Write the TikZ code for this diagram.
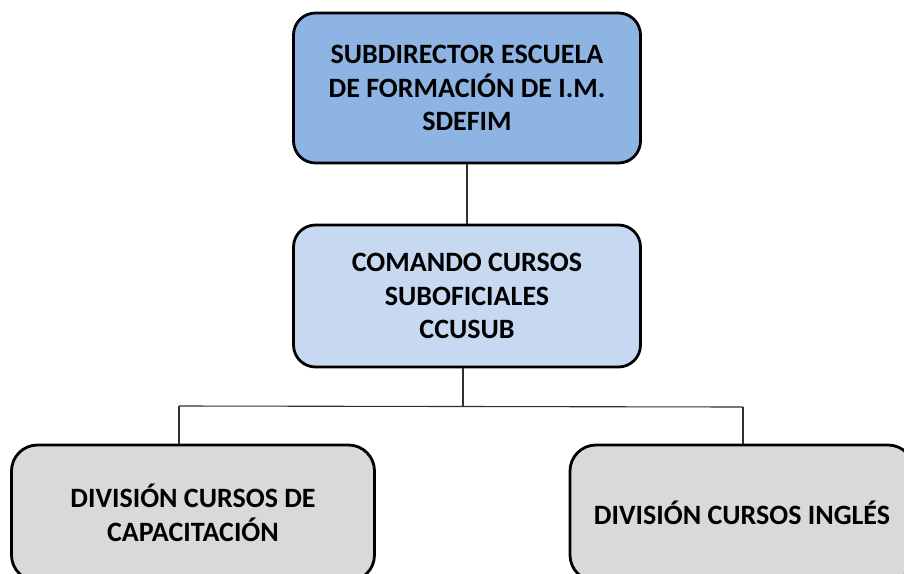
\documentclass[tikz,border=0pt]{standalone}
\usepackage{fontspec}
\setmainfont{Carlito}
\definecolor{topfill}{HTML}{8EB4E3}
\definecolor{midfill}{HTML}{C6D9F1}
\definecolor{botfill}{HTML}{D9D9D9}
\definecolor{conn}{HTML}{303030}
\begin{document}
\begin{tikzpicture}[x=1pt,y=-1pt,
  box/.style={draw=black, line width=2.8pt, rounded corners=22pt, align=center,
    font=\fontsize{28}{33.5}\selectfont\bfseries, inner sep=0pt},
  link/.style={draw=conn, line width=1.1pt}]
\useasboundingbox (0,0) rectangle (904,573);
\clip (0,0) rectangle (904,573);
\node[box, fill=topfill, minimum width=347pt, minimum height=150pt] (top) at (467,88)
  {SUBDIRECTOR ESCUELA\\DE FORMACIÓN DE I.M.\\SDEFIM};
\node[box, fill=midfill, minimum width=347pt, minimum height=142pt] (mid) at (467,296)
  {COMANDO CURSOS\\SUBOFICIALES\\CCUSUB};
\node[box, fill=botfill, rounded corners=26pt, minimum width=363pt, minimum height=136pt] (left) at (193,513)
  {DIVISIÓN CURSOS DE\\CAPACITACIÓN};
\node[box, fill=botfill, rounded corners=26pt, minimum width=344pt, minimum height=136pt] (right) at (742,513)
  {DIVISIÓN CURSOS INGLÉS};
\coordinate (j) at (463,406);
\coordinate (busL) at (179,406);
\coordinate (busR) at (743,407);
\draw[link] (top.south) -- (mid.north);
\draw[link] (j |- mid.south) -- (j);
\draw[link] (busL) -- (busR);
\draw[link] (busL) -- (busL |- left.north);
\draw[link] (busR) -- (busR |- right.north);
\end{tikzpicture}
\end{document}
